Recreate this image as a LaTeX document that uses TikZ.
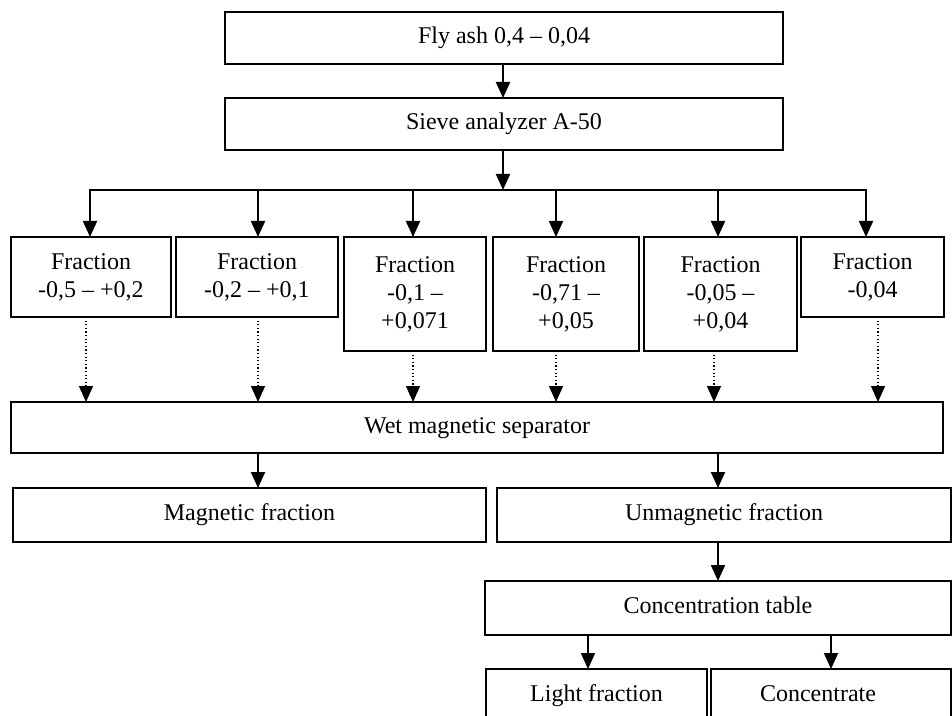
\documentclass[tikz,border=0pt]{standalone}
\usepackage{fontspec}
\setmainfont{Liberation Serif}
\usetikzlibrary{arrows.meta}
\begin{document}
\begin{tikzpicture}[x=0.5pt,y=-0.5pt,
 box/.style={draw,line width=1.2pt,inner sep=0pt,outer sep=0pt,align=center,font=\fontsize{12}{14}\selectfont},
 one/.style={text height=8.2pt,text depth=2.6pt},
 sz/.style 2 args={minimum width=#1pt,minimum height=#2pt},
 arr/.style={line width=1pt,-{Triangle[length=8pt,width=7pt]}},
 dotarr/.style={line width=0.6pt,dash pattern=on 0.6pt off 1.2pt,-{Triangle[length=8pt,width=7pt,sep=0pt]}},
 bus/.style={line width=1pt,line cap=rect}]
\clip (0,0) rectangle (952,716);
% boxes
\node[box,one,sz={279}{26}] (fly) at (504,38) {Fly ash 0,4 – 0,04};
\node[box,one,sz={279}{26}] (sieve) at (504,124) {Sieve analyzer A-50};
\node[box,sz={80}{40}] (f1) at (91,277) {Fraction\\-0,5 – +0,2};
\node[box,sz={81}{40}] (f2) at (257,277) {Fraction\\-0,2 – +0,1};
\node[box,sz={71}{57}] (f3) at (415,294) {Fraction\\-0,1 –\\+0,071};
\node[box,sz={73}{57}] (f4) at (566,294) {Fraction\\-0,71 –\\+0,05};
\node[box,sz={76.5}{57}] (f5) at (720.5,294) {Fraction\\-0,05 –\\+0,04};
\node[box,sz={71.5}{40}] (f6) at (872.5,277) {Fraction\\-0,04};
\node[box,one,sz={466}{25.5}] (wet) at (477,427.5) {Wet magnetic separator};
\node[box,one,sz={236.5}{27}] (mag) at (249.5,515) {Magnetic fraction};
\node[box,one,sz={227}{27}] (unmag) at (724,515) {Unmagnetic fraction};
\node[box,one,sz={233}{27}] (conc) at (718,608) {Concentration table};
\node[box,one,sz={110.5}{27}] (light) at (596.5,696) {Light fraction};
\node[box,one,sz={120}{27}] (cnt) at (831,696) {Concentrate\hspace*{13pt}};
% helper coordinates
\coordinate (a0) at (503,0);
\coordinate (bus0) at (503,190);
\coordinate (t1) at (90,190);
\coordinate (t2) at (258,190);
\coordinate (t3) at (413,190);
\coordinate (t4) at (556,190);
\coordinate (t5) at (718,190);
\coordinate (t6) at (866,190);
\coordinate (d1) at (86,0);
\coordinate (d2) at (258,0);
\coordinate (d3) at (413,0);
\coordinate (d4) at (556,0);
\coordinate (d5) at (714,0);
\coordinate (d6) at (878,0);
\coordinate (m1) at (258,0);
\coordinate (m2) at (718,0);
\coordinate (c1) at (588,0);
\coordinate (c2) at (831,0);
% connectors
\draw[arr] (fly.south -| a0) -- (sieve.north -| a0);
\draw[arr] (sieve.south -| a0) -- (bus0);
\draw[bus] (t1) -- (t6);
\foreach \i in {1,...,6}{
  \draw[arr] (t\i) -- (f\i.north -| t\i);
  \draw[dotarr] (f\i.south -| d\i) -- (wet.north -| d\i);
}
\draw[arr] (wet.south -| m1) -- (mag.north -| m1);
\draw[arr] (wet.south -| m2) -- (unmag.north -| m2);
\draw[arr] (unmag.south -| m2) -- (conc.north -| m2);
\draw[arr] (conc.south -| c1) -- (light.north -| c1);
\draw[arr] (conc.south -| c2) -- (cnt.north -| c2);
\end{tikzpicture}
\end{document}
